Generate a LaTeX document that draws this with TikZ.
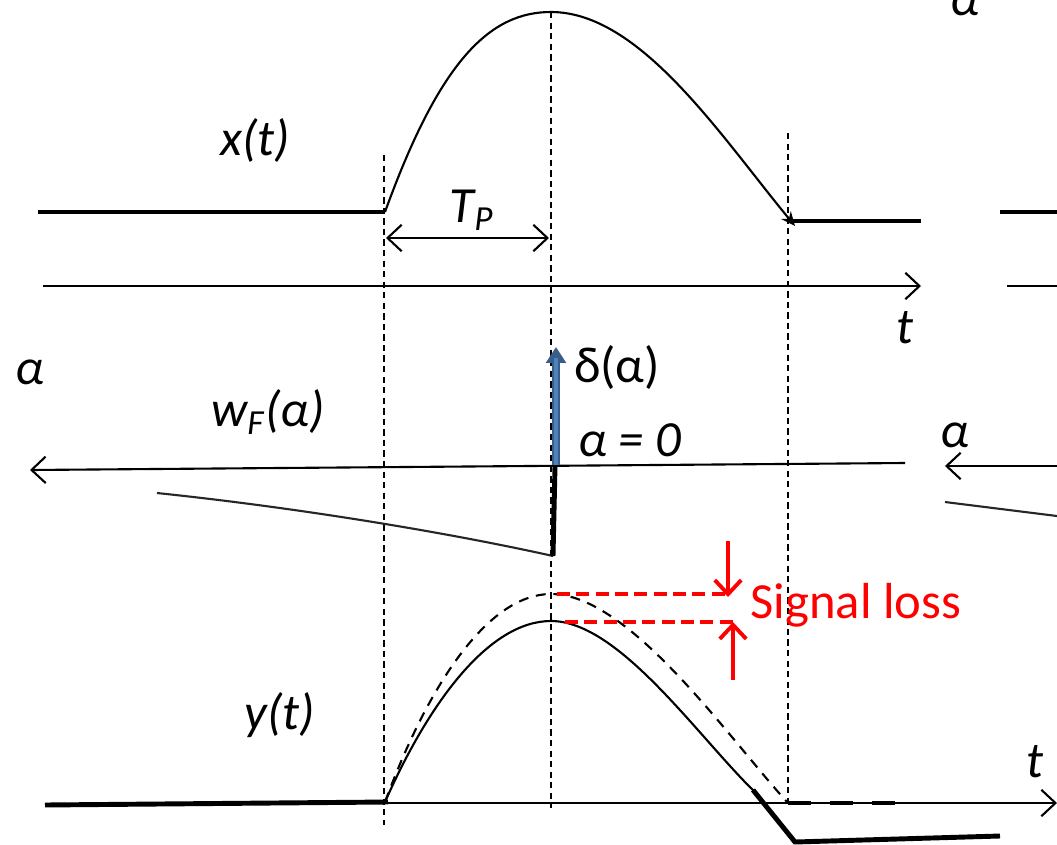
\documentclass[tikz,border=0pt]{standalone}
\usepackage{fontspec}
\setmainfont{Carlito}
\usepackage{tikz}
\usetikzlibrary{arrows.meta}
\definecolor{deltablue}{HTML}{4F81BD}
\definecolor{deltaedge}{HTML}{385D8A}
\definecolor{lossred}{HTML}{FF0000}
\tikzset{
  lbl/.style={font=\fontsize{14.4}{17}\selectfont\itshape, inner sep=0pt},
  axis/.style={line width=0.6pt, -{Straight Barb[length=4pt,width=7.5pt]}},
  level/.style={line width=1.4pt},
  sig/.style={line width=0.6pt},
  guide/.style={line width=0.35pt, dash pattern=on 1.8pt off 1.2pt},
  lossline/.style={lossred, line width=1pt, dash pattern=on 3.7pt off 1.8pt},
  lossarrow/.style={lossred, line width=1.1pt, -{Straight Barb[length=4pt,width=7.5pt]}},
}
\begin{document}
\begin{tikzpicture}[x=0.01cm, y=-0.01cm]
\useasboundingbox (0,0) rectangle (1057,845);

% Pulse edges
\coordinate (s0) at (385,212);
\coordinate (pk) at (551,12);
\coordinate (s1) at (795,226);
\foreach \x/\ya/\yb in {384/155/825, 551/12/808, 788/133/808}
  \draw[guide] (\x,\ya) -- (\x,\yb);

% Input pulse x(t)
\begin{scope}
\draw[level] (38,212) -- (s0);
\draw[sig, -{Stealth[length=4pt,width=3.5pt]}] (s0) .. controls (440,60) and (490,12) .. (pk)
               .. controls (640,12) and (720,135) .. (s1);
\draw[level] (792,221) -- (921,221);
\draw[level] (1000,212) -- (1057,212);
\coordinate (ta) at (43,286);
\coordinate (tb) at (921,286);
\draw[axis] (ta) -- (tb);
\draw[sig] (1007,286) -- (1057,286);
\coordinate (tp0) at (386,238);
\coordinate (tp1) at (549,238);
\draw[sig, {Straight Barb[length=4pt,width=7.5pt]}-{Straight Barb[length=4pt,width=7.5pt]}] (tp0) -- (tp1);
\node[lbl] (xlab) at (255,140) {x(t)};
\node[lbl] (tplab) at (472,210) {T\textsubscript{P}};
\node[lbl] (tlab1) at (905,328) {t};
\node[lbl] (alab0) at (965,3) {α};
\end{scope}

% Filter response w_F(alpha)
\begin{scope}
\coordinate (aa) at (905,463);
\coordinate (ab) at (30,470);
\draw[axis] (aa) -- (ab);
\coordinate (ac) at (1057,466);
\coordinate (ad) at (945,466);
\draw[axis] (ac) -- (ad);
\coordinate (w0) at (157,493);
\coordinate (w1) at (553,556);
\coordinate (w2) at (555,466);
\draw[sig, black!85] (w0) .. controls (300,508) and (450,533) .. (w1);
\draw[level] (w1) -- (w2);
\draw[sig, black!85] (945,502) -- (1057,516);
\coordinate (d0) at (556,465);
\coordinate (d1) at (556,347);
\draw[line width=2pt, deltaedge, -{Triangle[length=4.5pt,width=5.5pt]}] (d0) -- (d1);
\draw[line width=1.2pt, deltablue, shorten >=3pt] (d0) -- (d1);
\node[lbl] (alab1) at (30,372) {α};
\node[lbl] (wlab) at (268,412) {w\textsubscript{F}(α)};
\node[lbl, font=\fontsize{14.4}{17}\selectfont] (dlab) at (617,367) {δ(α)};
\node[lbl] (zlab) at (630,440) {α = 0};
\node[lbl] (alab2) at (955,435) {α};
\end{scope}

% Output y(t)
\begin{scope}
\coordinate (y0) at (385,802);
\draw[level] (45,805) -- (388,802);
\coordinate (ya) at (385,803);
\coordinate (yb) at (1057,803);
\draw[axis] (ya) -- (yb);
\draw[sig, dash pattern=on 2.8pt off 2.2pt] (y0) .. controls (430,680) and (490,594) .. (551,594)
     .. controls (630,594) and (730,740) .. (788,803);
\draw[level, dash pattern=on 6.5pt off 5.5pt] (788,803) -- (900,803);
\draw[sig] (y0) .. controls (430,700) and (490,621) .. (551,621)
     .. controls (620,621) and (700,740) .. (758,795);
\draw[level] (753,790) -- (795,842) -- (1000,836);
% Signal loss
\draw[lossline] (557,594) -- (730,594);
\draw[lossline] (565,622) -- (735,622);
\coordinate (r0) at (728,541);
\coordinate (r1) at (728,597);
\coordinate (r2) at (733,680);
\coordinate (r3) at (733,622);
\draw[lossarrow] (r0) -- (r1);
\draw[lossarrow] (r2) -- (r3);
\node[lbl, font=\fontsize{14.4}{17}\selectfont, text=lossred] (loss) at (856,605) {Signal loss};
\node[lbl] (ylab) at (280,715) {y(t)};
\node[lbl] (tlab2) at (1035,762) {t};
\end{scope}
\end{tikzpicture}
\end{document}
